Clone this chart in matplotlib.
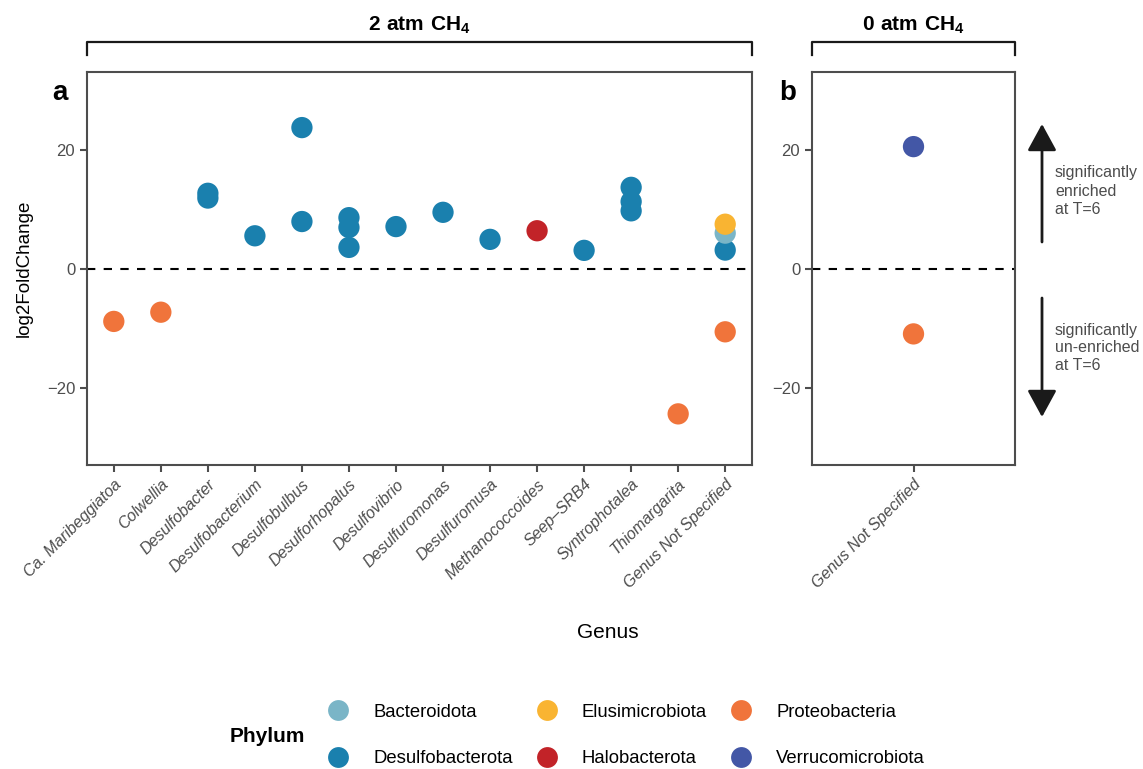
import matplotlib
matplotlib.use("Agg")
import matplotlib.pyplot as plt
from matplotlib.lines import Line2D
from matplotlib.patches import FancyArrowPatch

plt.rcParams['font.family'] = ['Liberation Sans', 'DejaVu Sans']
plt.rcParams['mathtext.fontset'] = 'custom'
plt.rcParams['mathtext.rm'] = 'Liberation Sans'
plt.rcParams['mathtext.bf'] = 'Liberation Sans:bold'

# genera on the x axis of panel a
genera = ['Ca. Maribeggiatoa', 'Colwellia', 'Desulfobacter', 'Desulfobacterium',
          'Desulfobulbus', 'Desulforhopalus', 'Desulfovibrio', 'Desulfuromonas',
          'Desulfuromusa', 'Methanococcoides', 'Seep\u2013SRB4', 'Syntrophotalea',
          'Thiomargarita', 'Genus Not Specified']

# panel a points (2 atm CH4)
a_genus = ['Ca. Maribeggiatoa', 'Colwellia', 'Desulfobacter', 'Desulfobacter',
           'Desulfobacterium', 'Desulfobulbus', 'Desulfobulbus',
           'Desulforhopalus', 'Desulforhopalus', 'Desulforhopalus',
           'Desulfovibrio', 'Desulfuromonas', 'Desulfuromusa', 'Methanococcoides',
           'Seep\u2013SRB4', 'Syntrophotalea', 'Syntrophotalea', 'Syntrophotalea',
           'Thiomargarita', 'Genus Not Specified', 'Genus Not Specified',
           'Genus Not Specified', 'Genus Not Specified']
a_lfc = [-8.85, -7.3, 12.7, 11.9, 5.55, 23.75, 7.95, 8.6, 6.95, 3.6,
         7.1, 9.5, 4.95, 6.4, 3.1, 13.7, 11.3, 9.75, -24.4, 3.15, 6.0, 7.5, -10.6]
a_phylum = ['Proteobacteria', 'Proteobacteria', 'Desulfobacterota', 'Desulfobacterota',
            'Desulfobacterota', 'Desulfobacterota', 'Desulfobacterota',
            'Desulfobacterota', 'Desulfobacterota', 'Desulfobacterota',
            'Desulfobacterota', 'Desulfobacterota', 'Desulfobacterota', 'Halobacterota',
            'Desulfobacterota', 'Desulfobacterota', 'Desulfobacterota', 'Desulfobacterota',
            'Proteobacteria', 'Desulfobacterota', 'Bacteroidota', 'Elusimicrobiota',
            'Proteobacteria']

# panel b points (0 atm CH4)
b_genus = ['Genus Not Specified', 'Genus Not Specified']
b_lfc = [20.55, -10.95]
b_phylum = ['Verrucomicrobiota', 'Proteobacteria']

phyla = ['Bacteroidota', 'Desulfobacterota', 'Elusimicrobiota', 'Halobacterota',
         'Proteobacteria', 'Verrucomicrobiota']
colors = {'Bacteroidota': '#7ab5c7', 'Desulfobacterota': '#1a80ae',
          'Elusimicrobiota': '#f9b432', 'Halobacterota': '#c22328',
          'Proteobacteria': '#f0743b', 'Verrucomicrobiota': '#4357a6'}

W, H = 1143, 769
fig = plt.figure(figsize=(W / 100, H / 100), dpi=100)

def fx(px):
    return px / W

def fy(py):
    return 1 - py / H

ax_a = fig.add_axes([fx(87), fy(465), fx(752) - fx(87), fy(72) - fy(465)])
ax_b = fig.add_axes([fx(812), fy(465), fx(1015) - fx(812), fy(72) - fy(465)])

for ax, cats, gen, lfc, phy in [(ax_a, genera, a_genus, a_lfc, a_phylum),
                                (ax_b, ['Genus Not Specified'], b_genus, b_lfc, b_phylum)]:
    xs = [cats.index(g) for g in gen]
    ax.scatter(xs, lfc, c=[colors[p] for p in phy], s=235, linewidths=0, zorder=3)
    ax.axhline(0, color='black', lw=1.5, ls=(0, (4, 4)), zorder=2)
    ax.set_xticks(range(len(cats)))
    ax.set_xticklabels(cats, rotation=45, ha='right', rotation_mode='anchor',
                       style='italic', fontsize=11.5, color='#4d4d4d')
    ax.set_xlim(-0.57, len(cats) - 1 + 0.57)
    ax.set_ylim(-33, 33.1)
    ax.set_yticks([-20, 0, 20])
    ax.tick_params(axis='y', labelsize=12, colors='#4d4d4d')
    ax.tick_params(length=5, width=1.5, color='#4d4d4d')
    for sp in ax.spines.values():
        sp.set_color('#4d4d4d')
        sp.set_linewidth(1.5)

ax_a.set_ylabel('log2FoldChange', fontsize=13.5, labelpad=10)
fig.text(fx(608), fy(632), 'Genus', fontsize=15, ha='center', va='center')

# panel letters
fig.text(fx(60), fy(93), 'a', fontsize=20, fontweight='bold', ha='center', va='center')
fig.text(fx(788), fy(93), 'b', fontsize=20, fontweight='bold', ha='center', va='center')

# brackets with condition titles
for x0, x1, title in [(87, 752, r'$\mathbf{2\ atm\ CH_4}$'), (812, 1015, r'$\mathbf{0\ atm\ CH_4}$')]:
    fig.add_artist(Line2D([fx(x0), fx(x0), fx(x1), fx(x1)], [fy(55), fy(42), fy(42), fy(55)],
                          color='#1a1a1a', lw=1.6))
    fig.text(fx((x0 + x1) / 2), fy(25), title, fontsize=15, ha='center', va='center')

# enrichment arrows
arrow_style = dict(arrowstyle='-|>,head_length=1.1,head_width=0.6', lw=2,
                   color='#1a1a1a', shrinkA=0, shrinkB=0, mutation_scale=15)
fig.add_artist(FancyArrowPatch((fx(1042), fy(242)), (fx(1042), fy(124)),
                               transform=fig.transFigure, **arrow_style))
fig.add_artist(FancyArrowPatch((fx(1042), fy(298)), (fx(1042), fy(417)),
                               transform=fig.transFigure, **arrow_style))
fig.text(fx(1055), fy(191), 'significantly\nenriched\nat T=6', fontsize=11.5,
         color='#4d4d4d', ha='left', va='center', linespacing=1.25)
fig.text(fx(1055), fy(348), 'significantly\nun-enriched\nat T=6', fontsize=11.5,
         color='#4d4d4d', ha='left', va='center', linespacing=1.25)

# legend
handles = [Line2D([], [], ls='', marker='o', markersize=15, markeredgewidth=0,
                  color=colors[p]) for p in phyla]
fig.legend(handles, phyla, ncol=3, loc='center left', frameon=False,
           bbox_to_anchor=(fx(329), fy(735.5)), fontsize=13.3, borderpad=0,
           borderaxespad=0, handlelength=1.0, handletextpad=1.4,
           columnspacing=1.34, labelspacing=1.62)
fig.text(fx(230), fy(737), 'Phylum', fontsize=15, fontweight='bold', ha='left', va='center')

fig.savefig('out.png', dpi=100)
